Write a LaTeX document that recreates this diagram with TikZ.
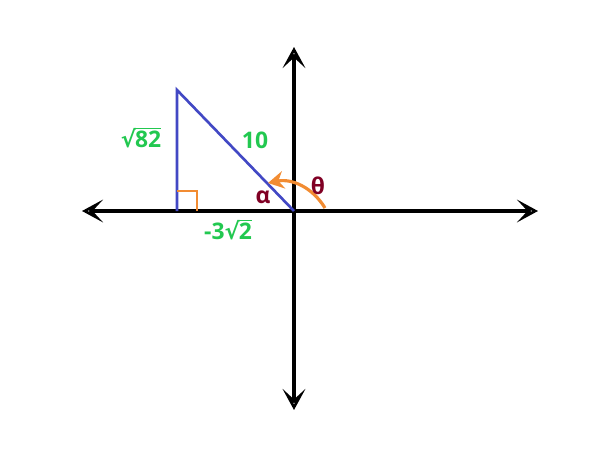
\documentclass[tikz,border=0pt]{standalone}
\usepackage{fontspec}
\setmainfont{Open Sans}
\newfontfamily\rootfont{DejaVu Sans}
\usetikzlibrary{arrows.meta}
\definecolor{lblgreen}{RGB}{34,200,80}
\definecolor{sideblue}{RGB}{66,72,196}
\definecolor{angorange}{RGB}{242,140,50}
\definecolor{angred}{RGB}{128,0,36}
\newcommand{\rootsign}[1]{{\rootfont\bfseries √}\kern-0.6pt$\overline{\hbox{#1}}$}
\tikzset{
  axis/.style={line width=1.9pt,black,{Stealth[open,length=12pt,width=13pt,inset=6pt,line width=1.8pt]}-{Stealth[open,length=12pt,width=13pt,inset=6pt,line width=1.8pt]}},
  side/.style={line width=1.5pt,sideblue},
  lbl/.style={font=\fontsize{13}{15}\selectfont\bfseries,inner sep=1pt},
}
\begin{document}
\begin{tikzpicture}[x=0.02cm,y=-0.02cm]
    \useasboundingbox (0,0) rectangle (600,450);
    \coordinate (O) at (294,211);
    \coordinate (L) at (82,211);
    \coordinate (R) at (538,211);
    \coordinate (T) at (294,47);
    \coordinate (D) at (294,410);
    \coordinate (A) at (177,90);
    \coordinate (B) at (177,211);
    \draw[axis] (L) -- (R);
    \draw[axis] (D) -- (T);
    \draw[side] (B) -- (A) -- (O);
    \draw[angorange,line width=1.7pt] (177,191) -| (197,211);
    \coordinate (s) at (325,208);
    \coordinate (e) at (268,183);
    \draw[angorange,line width=1.8pt,-{Stealth[length=9pt,width=10pt,inset=3pt]}] (s) to[bend right=35] (e);
    \node[lbl,text=lblgreen] (root82) at (141,138) {\rootsign{82}};
    \node[lbl,text=lblgreen] (hyp) at (255,140) {10};
    \node[lbl,text=lblgreen] (base) at (228,230) {-3\rootsign{2}};
    \node[lbl,text=angred] (alpha) at (263,197) {α};
    \node[lbl,text=angred] (theta) at (318,186) {θ};
\end{tikzpicture}
\end{document}
